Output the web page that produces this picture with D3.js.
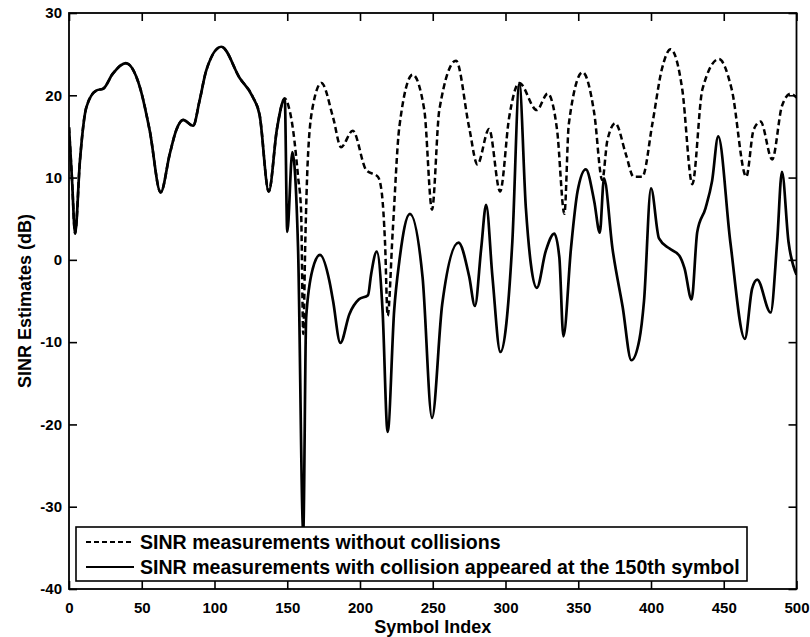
<!DOCTYPE html>
<html>
<head>
<meta charset="utf-8">
<script src="https://cdn.jsdelivr.net/npm/d3@7"></script>
<style>
  body { margin: 0; background: #fff; }
  text { font-family: "Liberation Sans", Arial, Helvetica, sans-serif; font-weight: bold; fill: #000; }
  .axis path { display: none; }
  .axis line { stroke: #000; stroke-width: 1.6; }
</style>
</head>
<body>
<script>
// values: [symbol index, SINR dB]
var sharedStart = [
  [0, 16.1], [2, 10], [4.2, 3.2], [7.5, 12.0], [12, 18.6], [19, 20.6], [23.5, 20.8],
  [30, 22.6], [39, 23.9], [48.7, 21.0], [55.5, 15.7], [63, 8.2], [69.3, 12.9],
  [73.8, 15.8], [78.4, 17.0], [85.3, 16.3], [89.8, 19.4], [94.3, 23.0], [104.7, 25.9],
  [117.3, 22.1], [126.3, 19.8], [131, 17.6], [137.3, 8.3], [143, 16], [148.3, 19.6]
];

var withoutCollision = [
  [151, 18.6], [154, 15.8], [157.5, 10], [159.5, 6], [161, -9], [162.5, 3], [164, 11.7],
  [167.5, 18.6], [173.5, 21.5], [181.5, 17.3], [187, 13.7], [195, 15.7], [204.3, 10.9],
  [212.3, 10.1], [215, 8.1], [217.2, 2.1], [219, -6.8], [222.5, 3.5], [227, 16.1],
  [236.2, 22.5], [244.2, 18.2], [249.5, 6.1], [254.5, 18.2], [266, 24.2], [275, 16.1],
  [280.7, 11.6], [288.7, 15.9], [296.3, 8.3], [302.5, 17.3], [309.5, 21.5], [321.5, 18.2],
  [329, 20.2], [335.5, 15.7], [340.5, 5.6], [343.5, 16.5], [353, 22.8], [361, 17.8],
  [366.5, 9.7], [370, 14.5], [375.5, 16.6], [382.8, 12.8], [388, 10.1], [394, 10.1],
  [401, 16.6], [407.5, 23.2], [413.5, 25.6], [421.5, 20.7], [428.4, 9.2], [435.3, 20.7],
  [446.7, 24.4], [455.5, 20.7], [465.5, 10.1], [470.5, 15.8], [475.3, 16.8], [483.3, 12.2],
  [490, 18.7], [495.9, 20.2], [500, 19.7]
];

var withCollision = [
  [150, 3.4], [153.5, 13.1], [157.4, 1.6], [161, -33], [163, -7.0], [167.5, -1.1],
  [172.5, 0.6], [179, -2.6], [181.5, -5.0], [186.5, -10.1], [192.7, -6.6], [199.3, -4.8],
  [205.5, -4.3], [207.6, -1.8], [211.5, 1.0], [215.5, -6.1], [219, -20.9], [223.5, -6.1],
  [227, -0.2], [234.3, 5.6], [243, -2.1], [249.5, -19.2], [256.5, -5.4], [267.7, 2.1],
  [275, -2.0], [279, -5.6], [283.3, 1.4], [286.7, 6.7], [291, -2.0], [296.5, -11.2],
  [304.7, 2.2], [309.5, 21.4], [314, 6.3], [317.5, -0.6], [321.5, -3.4], [327.7, 1.1],
  [333.5, 3.2], [337, 0.3], [339.8, -9.3], [345, 1.4], [349.5, 8.3], [355.2, 11.0],
  [361, 7.1], [364.8, 3.3], [367.7, 9.9], [373.5, 1.4], [380.5, -5.7], [386.5, -12.2],
  [392, -9.7], [395.2, -5.0], [400, 8.7], [405.5, 2.6], [412.5, 1.4], [419.5, 0.5],
  [423, -1.0], [427.9, -4.8], [431.8, 3.4], [437.5, 6.3], [442, 9.6], [446.2, 15.0],
  [454.5, 2.2], [464.5, -9.6], [469.5, -3.5], [473, -2.4], [482.2, -6.4], [486.7, 2.2],
  [490, 10.7], [494.5, 2.2], [500, -1.8]
];

var xTicks = [0, 50, 100, 150, 200, 250, 300, 350, 400, 450, 500];
var yTicks = [-40, -30, -20, -10, 0, 10, 20, 30];
var legendLabels = [
  "SINR measurements without collisions",
  "SINR measurements with collision appeared at the 150th symbol"
];

var dim = {
  width: 810, height: 637,
  margin: { top: 13, right: 13.5, bottom: 48, left: 69 }
};
dim.plot = {
  width: dim.width - dim.margin.left - dim.margin.right,
  height: dim.height - dim.margin.top - dim.margin.bottom
};

var x = d3.scaleLinear().domain([0, 500]).range([0, dim.plot.width]);
var y = d3.scaleLinear().domain([-40, 30]).range([dim.plot.height, 0]);

// plain hyphen for negatives, as in the figure
var plainFormat = function(d) { return String(d); };

var svg = d3.select("body").append("svg")
    .attr("width", dim.width)
    .attr("height", dim.height);

svg.append("rect").attr("width", dim.width).attr("height", dim.height).attr("fill", "#fff");

svg.append("defs").append("clipPath")
    .attr("id", "plotClip")
    .append("rect")
    .attr("width", dim.plot.width)
    .attr("height", dim.plot.height);

var g = svg.append("g")
    .attr("transform", "translate(" + dim.margin.left + "," + dim.margin.top + ")");

// axes, ticks pointing inward like matlab
g.append("g").attr("class", "axis")
    .attr("transform", "translate(0," + dim.plot.height + ")")
    .call(d3.axisBottom(x).tickValues(xTicks).tickFormat(plainFormat)
        .tickSizeInner(-8).tickSizeOuter(0).tickPadding(13))
    .selectAll("text").style("font-size", "15px");

g.append("g").attr("class", "axis")
    .call(d3.axisLeft(y).tickValues(yTicks).tickFormat(plainFormat)
        .tickSizeInner(-8).tickSizeOuter(0).tickPadding(7))
    .selectAll("text").style("font-size", "15px");

g.append("g").attr("class", "axis")
    .call(d3.axisTop(x).tickValues(xTicks).tickSizeInner(-8).tickSizeOuter(0).tickFormat(""));

g.append("g").attr("class", "axis")
    .attr("transform", "translate(" + dim.plot.width + ",0)")
    .call(d3.axisRight(y).tickValues(yTicks).tickSizeInner(-8).tickSizeOuter(0).tickFormat(""));

var line = d3.line()
    .x(function(d) { return x(d[0]); })
    .y(function(d) { return y(d[1]); })
    .curve(d3.curveMonotoneX);

var lines = g.append("g").attr("clip-path", "url(#plotClip)");

lines.append("path")
    .datum(sharedStart.concat(withoutCollision))
    .attr("d", line)
    .attr("fill", "none")
    .attr("stroke", "#000")
    .attr("stroke-width", 2.5)
    .attr("stroke-dasharray", "6,3.5");

lines.append("path")
    .datum(sharedStart.concat(withCollision))
    .attr("d", line)
    .attr("fill", "none")
    .attr("stroke", "#000")
    .attr("stroke-width", 2.7)
    .attr("stroke-linejoin", "round");

// frame
g.append("rect")
    .attr("width", dim.plot.width)
    .attr("height", dim.plot.height)
    .attr("fill", "none")
    .attr("stroke", "#000")
    .attr("stroke-width", 1.8);

// legend
var legend = g.append("g").attr("transform", "translate(" + (76 - dim.margin.left) + "," + (527 - dim.margin.top) + ")");
legend.append("rect")
    .attr("width", 671)
    .attr("height", 54)
    .attr("fill", "#fff")
    .attr("stroke", "#000")
    .attr("stroke-width", 1.6);

var rows = legend.selectAll("g.row").data(legendLabels).enter()
    .append("g").attr("class", "row")
    .attr("transform", function(d, i) { return "translate(0," + (15 + i * 25) + ")"; });

rows.append("line")
    .attr("x1", 10).attr("x2", 58)
    .attr("stroke", "#000")
    .attr("stroke-width", function(d, i) { return i ? 2.2 : 2; })
    .attr("stroke-dasharray", function(d, i) { return i ? null : "5,3"; });

var labels = rows.append("text")
    .attr("x", 64)
    .attr("dy", "0.36em")
    .style("font-size", "18px")
    .text(function(d) { return d; });

// fit font so the long label spans like in the figure
var longW = labels.nodes()[1].getComputedTextLength();
labels.style("font-size", (18 * 600 / longW).toFixed(2) + "px");

// axis titles
svg.append("text")
    .attr("x", dim.margin.left + dim.plot.width / 2)
    .attr("y", 633)
    .attr("text-anchor", "middle")
    .style("font-size", "18px")
    .text("Symbol Index");

svg.append("text")
    .attr("transform", "translate(31," + (dim.margin.top + dim.plot.height / 2) + ") rotate(-90)")
    .attr("text-anchor", "middle")
    .style("font-size", "18px")
    .text("SINR Estimates (dB)");
</script>
</body>
</html>
